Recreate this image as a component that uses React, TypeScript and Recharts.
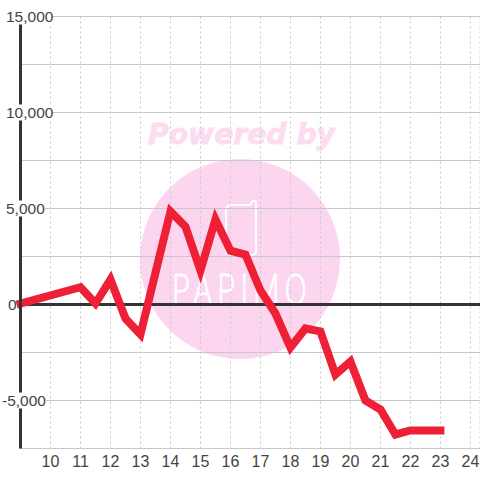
import React from 'react';
import { ComposedChart, Line, XAxis, YAxis, CartesianGrid, ReferenceLine } from 'recharts';

const xValues = [9, 11, 11.5, 12, 12.5, 13, 13.5, 14, 14.5, 15, 15.5, 16, 16.5, 17, 17.5, 18, 18.5, 19, 19.5, 20, 20.5, 21, 21.5, 22, 23];
const yValues = [50, 900, 50, 1300, -730, -1560, 1650, 4850, 4050, 1770, 4430, 2800, 2600, 730, -470, -2240, -1250, -1400, -3650, -2970, -5000, -5470, -6770, -6560, -6560];
const xTicks = [10, 11, 12, 13, 14, 15, 16, 17, 18, 19, 20, 21, 22, 23, 24];
const yTicks = [-7500, -5000, -2500, 0, 2500, 5000, 7500, 10000, 12500, 15000];

const data = xValues.map((x, i) => ({ x, y: yValues[i] }));

const FONT = '"Liberation Sans", Arial, sans-serif';
const TEXT_COLOR = '#444444';
const GRID_COLOR = '#c8c8c8';
const AXIS_COLOR = '#333333';
const RED = '#ee2036';
const PINK = '#fcd6ee';

// y labels sit on the axis with a white box behind them
const YTick = ({ y, payload }: any) => {
  const v = payload.value;
  if (v % 5000 !== 0) return <g />;
  const label = v.toLocaleString('en-US');
  const left = v === 0 ? 8 : v < 0 ? 2 : 6;
  const boxWidth = v === 0 ? 0 : v >= 10000 ? 53 : v < 0 ? 46 : 45;
  return (
    <g>
      {boxWidth > 0 && <rect x={0} y={y - 8} width={boxWidth} height={16} fill="#ffffff" />}
      <text x={left} y={y + 5.5} textAnchor="start" fontFamily={FONT} fontSize={15.5} fill={TEXT_COLOR}>
        {label}
      </text>
    </g>
  );
};

const Watermark = () => (
  <svg width={480} height={480} style={{ position: 'absolute', left: 0, top: 0 }}>
    <circle cx={240} cy={259} r={100} fill={PINK} />
    <text
      x={148}
      y={144}
      textLength={187}
      lengthAdjust="spacingAndGlyphs"
      fontFamily="DejaVu Sans"
      fontWeight="bold"
      fontStyle="italic"
      fontSize={28}
      fill="#fddcf1"
      stroke="#fddcf1"
      strokeWidth={0.8}
    >
      Powered by
    </text>
    <path
      d="M232 205 H250 Q251 205 251 203 Q251 201 254 201 Q256 201 256 204 V251 Q256 255 252 255 H232 Q226 255 226 250 V211 Q226 205 232 205 Z"
      fill="none"
      stroke="#ffffff"
      strokeWidth={2}
    />
    {/* squeezed sideways so the thin letters keep gaps like the logo */}
    <text
      transform="translate(172 304) scale(0.72 1)"
      textLength={187}
      lengthAdjust="spacing"
      fontFamily="Inter"
      fontWeight={200}
      fontSize={41}
      fill="#ffffff"
      stroke="#ffffff"
      strokeWidth={1}
    >
      PAPIMO
    </text>
  </svg>
);

export default function App() {
  return (
    <div style={{ position: 'absolute', left: 0, top: 0, width: 480, height: 480, background: '#ffffff' }}>
      <Watermark />
      <div style={{ position: 'absolute', left: 0, top: 0 }}>
        <ComposedChart
          width={480}
          height={480}
          data={data}
          margin={{ top: 16.5, right: 0, bottom: 0, left: 0 }}
        >
          <CartesianGrid vertical={false} stroke={GRID_COLOR} strokeWidth={1} />
          <CartesianGrid horizontal={false} stroke={GRID_COLOR} strokeWidth={1} strokeDasharray="2 3" />
          <XAxis
            dataKey="x"
            type="number"
            height={31.5}
            domain={[9, 24.32]}
            ticks={xTicks}
            interval={0}
            axisLine={{ stroke: GRID_COLOR, strokeWidth: 1 }}
            tickLine={false}
            tickMargin={1}
            tick={{ fontSize: 16, fontFamily: FONT, fill: TEXT_COLOR }}
          />
          <YAxis
            type="number"
            width={20.5}
            domain={[-7500, 15000]}
            ticks={yTicks}
            interval={0}
            axisLine={{ stroke: AXIS_COLOR, strokeWidth: 3 }}
            tickLine={false}
            tick={YTick}
          />
          <ReferenceLine y={0} stroke={AXIS_COLOR} strokeWidth={3} />
          <Line
            dataKey="y"
            type="linear"
            stroke={RED}
            strokeWidth={8}
            strokeLinejoin="miter"
            strokeLinecap="square"
            dot={false}
            activeDot={false}
            isAnimationActive={false}
          />
        </ComposedChart>
      </div>
    </div>
  );
}
